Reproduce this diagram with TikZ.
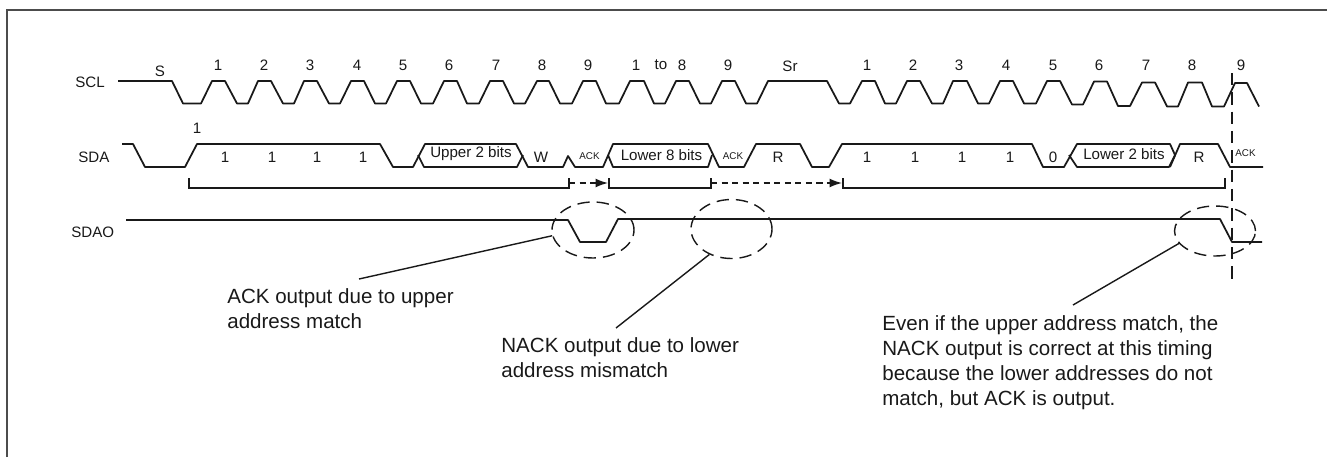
\documentclass[tikz,border=0pt]{standalone}
\usepackage{fontspec}
\setmainfont{Liberation Sans}
\usetikzlibrary{shapes.geometric,arrows.meta}
\begin{document}
\begin{tikzpicture}[
  x=0.02cm, y=-0.02cm,
  wave/.style={draw=black!90, line width=1pt, line join=round},
  bracket/.style={draw=black!90, line width=0.8pt},
  guide/.style={draw=black!90, line width=0.8pt, dash pattern=on 7pt off 4pt},
  ring/.style={
    draw=black!90, line width=0.8pt, dash pattern=on 7pt off 4pt, ellipse,
    inner sep=0pt
  },
  leader/.style={draw=black!90, line width=0.8pt},
  sig/.style={font=\fontsize{8.6}{10}\selectfont, inner sep=0pt, text=black!90},
  tiny/.style={font=\fontsize{5.6}{6.5}\selectfont, inner sep=0pt, text=black!90},
  note/.style={font=\fontsize{11.7}{14.2}\selectfont, align=left, anchor=west, inner sep=0pt, text=black!90},
]

\useasboundingbox (0,0) rectangle (1327,457);

% frame
\draw[draw=black!70, line width=0.9pt] (7,457) -- (7,10) -- (1327,10);

% signal names
\node[sig, anchor=west] (scllabel) at (75,82) {SCL};
\node[sig, anchor=west] (sdalabel) at (78,157) {SDA};
\node[sig, anchor=west] (sdaolabel) at (71,232) {SDAO};

% SCL
\draw[wave] (118,81) -- (172,81) -- (183,103.5) -- (201,103.5)
  -- (212,81) -- (225,81) -- (237,103.5) -- (248,103.5)
  -- (258,81) -- (271,81) -- (283,103.5) -- (294,103.5)
  -- (304,81) -- (317,81) -- (329,103.5) -- (340,103.5)
  -- (351,81) -- (364,81) -- (375,103.5) -- (386,103.5)
  -- (397,81) -- (410,81) -- (421,103.5) -- (433,103.5)
  -- (444,81) -- (457,81) -- (467,103.5) -- (479,103.5)
  -- (490,81) -- (503,81) -- (514,103.5) -- (525,103.5)
  -- (537,81) -- (549,81) -- (560,103.5) -- (572,103.5)
  -- (583,81) -- (596,81) -- (606,103.5) -- (619,103.5)
  -- (630,81) -- (644,81) -- (654,103.5) -- (665,103.5)
  -- (676,81) -- (689,81) -- (700,103.5) -- (711,103.5)
  -- (722,81) -- (735,81) -- (746,103.5) -- (757,103.5)
  -- (768,81) -- (827,81) -- (839,103.5) -- (850,103.5)
  -- (862,81) -- (875,81) -- (885,103.5) -- (896,103.5)
  -- (907,81) -- (920,81) -- (932,103.5) -- (943,103.5)
  -- (953,81) -- (967,81) -- (978,103.5) -- (989,103.5)
  -- (1000,81) -- (1013,81) -- (1024,103.5) -- (1036,103.5)
  -- (1047,81) -- (1060,81) -- (1072,104.5) -- (1083,104.5)
  -- (1094,81.5) -- (1107,81.5) -- (1118,106) -- (1130,106)
  -- (1142,82.5) -- (1155,82.5) -- (1167,106.5) -- (1178,106.5)
  -- (1188,82.5) -- (1202,82.5) -- (1212,106.5) -- (1224,106.5)
  -- (1235,83) -- (1247,83) -- (1259,106.5);

\node[sig] (sclS) at (160,71) {S};
\foreach \n/\xx in {1/218,2/264,3/310,4/357,5/403,6/449,7/496,8/542,9/588,1/636,8/682,9/728,
                    1/867,2/913,3/959,4/1006,5/1053,6/1099,7/1146,8/1192,9/1241}{
  \node[sig] at (\xx,65) {\n};
}
\node[sig] (sclto) at (661,65) {to};
\node[sig] (sclSr) at (790,66) {Sr};

% SDA
\draw[wave] (122,144) -- (133,144) -- (145,167) -- (185,167) -- (197,144) -- (380,144)
  -- (393,167) -- (413,167) -- (425,144) -- (516,144) -- (528,167) -- (563,167)
  -- (568,156) -- (575,167) -- (603,167) -- (613,144) -- (708,144) -- (719,167)
  -- (744,167) -- (756,144) -- (800,144) -- (812,167) -- (829,167) -- (842,144)
  -- (1032,144) -- (1043,167) -- (1064,167) -- (1077,144) -- (1170,144) -- (1175,155)
  -- (1169,167) -- (1077,167) -- (1069,155);
\draw[wave] (418,155) -- (424,167) -- (517,167) -- (523,155);
\draw[wave] (608,155) -- (613,167) -- (708,167) -- (712,155);
\draw[wave] (1170,167) -- (1180,144) -- (1218,144) -- (1230,167) -- (1263,167);

\node[sig] (sdastart) at (197,128) {1};
\foreach \xx in {225,272,317,363,867,915,962,1010}{
  \node[sig] at (\xx,157) {1};
}
\node[sig] (sdaupper) at (471,154) {Upper 2 bits};
\node[sig] (sdaW) at (541,157) {W};
\node[tiny] (sdaack1) at (589.5,156) {ACK};
\node[sig] (sdalower) at (661.5,155) {Lower 8 bits};
\node[tiny] (sdaack2) at (733,156) {ACK};
\node[sig] (sdaR) at (778,157) {R};
\node[sig] (sdazero) at (1053,157) {0};
\node[sig] (sdalowertwo) at (1124,154) {Lower 2 bits};
\node[sig] (sdaR2) at (1199,157) {R};
\node[tiny] (sdaack3) at (1245.5,153) {ACK};

% brackets
\coordinate (bra) at (189,178);
\coordinate (brb) at (569,178);
\coordinate (brc) at (609,178);
\coordinate (brd) at (711,178);
\coordinate (bre) at (843,178);
\coordinate (brf) at (1225,178);
\draw[bracket] (bra) -- (189,188) -- (569,188) -- (brb);
\draw[bracket] (brc) -- (609,188) -- (711,188) -- (brd);
\draw[bracket] (bre) -- (843,188) -- (1225,188) -- (brf);
\draw[bracket, dash pattern=on 3.5pt off 2.5pt, -{Latex[length=7pt,width=5pt]}] (569,183) -- (608,183);
\draw[bracket, dash pattern=on 3.5pt off 2.5pt, -{Latex[length=7pt,width=5pt]}] (711,183) -- (842,183);

% SDAO
\draw[wave] (126,220) -- (568,220) -- (580,242) -- (606,242) -- (618,219)
  -- (1220,219) -- (1232,242) -- (1262,242);

% guide
\draw[guide] (1232,73) -- (1232,285);

% rings
\node[ring, minimum width=1.64cm, minimum height=1.12cm] (ackring) at (593,230) {};
\node[ring, minimum width=1.62cm, minimum height=1.18cm] (nackring) at (731.5,229) {};
\node[ring, minimum width=1.62cm, minimum height=1cm] (latering) at (1215,231) {};

% notes
\node[note] (acknote) at (227,309) {ACK output due to upper\\address match};
\node[note] (nacknote) at (501,358) {NACK output due to lower\\address mismatch};
\node[note] (latenote) at (882,363) {Even if the upper address match, the\\NACK output is correct at this timing\\because the lower addresses do not\\match, but ACK is output.};

\coordinate (ackfoot) at (359,279);
\coordinate (nackfoot) at (616,328);
\coordinate (latefoot) at (1073,305);
\draw[leader] (ackfoot) -- (ackring.188);
\draw[leader] (nackfoot) -- (nackring.229);
\draw[leader] (latefoot) -- (latering.199);

\end{tikzpicture}
\end{document}
